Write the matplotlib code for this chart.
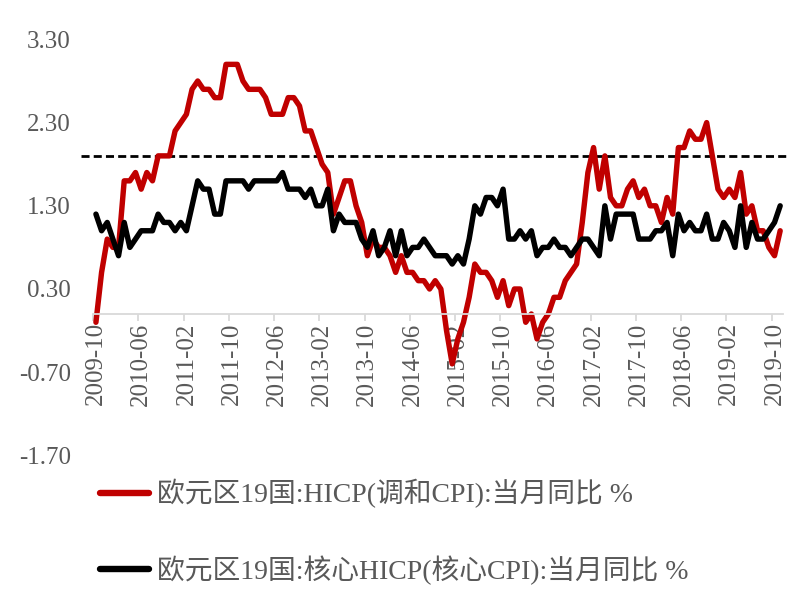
import matplotlib
matplotlib.use("Agg")
import matplotlib.pyplot as plt
import numpy as np
import pandas as pd
from matplotlib.lines import Line2D
from matplotlib.font_manager import FontProperties

plt.rcParams['lines.scale_dashes'] = False

# ---------------- data ----------------
months = list(pd.period_range('2009-10', '2019-11', freq='M').strftime('%Y-%m'))

hicp = [-0.1, 0.5, 0.9, 0.8, 0.8, 1.6, 1.6, 1.7, 1.5, 1.7, 1.6, 1.9, 1.9, 1.9, 2.2, 2.3,
        2.4, 2.7, 2.8, 2.7, 2.7, 2.6, 2.6, 3.0, 3.0, 3.0, 2.8, 2.7, 2.7, 2.7, 2.6, 2.4,
        2.4, 2.4, 2.6, 2.6, 2.5, 2.2, 2.2, 2.0, 1.8, 1.7, 1.2, 1.4, 1.6, 1.6, 1.3, 1.1,
        0.7, 0.9, 0.8, 0.8, 0.7, 0.5, 0.7, 0.5, 0.5, 0.4, 0.4, 0.3, 0.4, 0.3, -0.2, -0.6,
        -0.3, -0.1, 0.2, 0.6, 0.5, 0.5, 0.4, 0.2, 0.4, 0.1, 0.3, 0.3, -0.1, 0.0, -0.3, -0.1,
        0.0, 0.2, 0.2, 0.4, 0.5, 0.6, 1.1, 1.7, 2.0, 1.5, 1.9, 1.4, 1.3, 1.3, 1.5, 1.6,
        1.4, 1.5, 1.3, 1.3, 1.1, 1.4, 1.2, 2.0, 2.0, 2.2, 2.1, 2.1, 2.3, 1.9, 1.5, 1.4,
        1.5, 1.4, 1.7, 1.2, 1.3, 1.0, 1.0, 0.8, 0.7, 1.0]

core = [1.2, 1.0, 1.1, 0.9, 0.7, 1.1, 0.8, 0.9, 1.0, 1.0, 1.0, 1.2, 1.1, 1.1, 1.0, 1.1,
        1.0, 1.3, 1.6, 1.5, 1.5, 1.2, 1.2, 1.6, 1.6, 1.6, 1.6, 1.5, 1.6, 1.6, 1.6, 1.6,
        1.6, 1.7, 1.5, 1.5, 1.5, 1.4, 1.5, 1.3, 1.3, 1.5, 1.0, 1.2, 1.1, 1.1, 1.1, 0.9,
        0.8, 1.0, 0.7, 0.8, 1.0, 0.7, 1.0, 0.7, 0.8, 0.8, 0.9, 0.8, 0.7, 0.7, 0.7, 0.6,
        0.7, 0.6, 0.9, 1.3, 1.2, 1.4, 1.4, 1.3, 1.5, 0.9, 0.9, 1.0, 0.9, 1.0, 0.7, 0.8,
        0.8, 0.9, 0.8, 0.8, 0.7, 0.8, 0.9, 0.9, 0.8, 0.7, 1.3, 0.9, 1.2, 1.2, 1.2, 1.2,
        0.9, 0.9, 0.9, 1.0, 1.0, 1.1, 0.7, 1.2, 1.0, 1.1, 1.0, 1.0, 1.2, 0.9, 0.9, 1.1,
        1.0, 0.8, 1.3, 0.8, 1.1, 0.9, 0.9, 1.0, 1.1, 1.3]

target = 1.9
y_ticks = [-1.70, -0.70, 0.30, 1.30, 2.30, 3.30]
series_names = ['欧元区19国:HICP(调和CPI):当月同比 %',
                '欧元区19国:核心HICP(核心CPI):当月同比 %']
label_step = 8

# ---------------- figure ----------------
GRAY = '#595959'
AXIS = '#D9D9D9'
fam = ['Liberation Serif', 'Noto Sans CJK SC']

fig = plt.figure(figsize=(8.1, 6.1), dpi=100)
ax = fig.add_axes([93.1 / 810, 1 - 455.4 / 610, (783 - 93.1) / 810, (455.4 - 39.4) / 610])

x = np.arange(len(months))
ax.plot([-2.6, len(months) + 0.4], [target, target], color='black', lw=2.0,
        dashes=(5.8, 3.0), clip_on=False, zorder=1)
ax.plot(x, hicp, color='#C00000', lw=3.9, solid_capstyle='round',
        solid_joinstyle='round', zorder=2, clip_on=False)
ax.plot(x, core, color='black', lw=3.9, solid_capstyle='round',
        solid_joinstyle='round', zorder=3, clip_on=False)

ax.set_xlim(-0.5, len(months) - 0.5)
ax.set_ylim(y_ticks[0], y_ticks[-1])

for s in ['left', 'right', 'top']:
    ax.spines[s].set_visible(False)
ax.spines['bottom'].set_position(('data', 0))
ax.spines['bottom'].set_color(AXIS)
ax.spines['bottom'].set_linewidth(1.3)

ax.set_xticks(x[::label_step])
ax.set_xticklabels([months[i] for i in x[::label_step]], rotation=90,
                   fontfamily='Liberation Serif', fontsize=18, color=GRAY)
ax.set_xticks(np.arange(-0.5, len(months) - 1, label_step), minor=True)
ax.tick_params(axis='x', which='major', length=0, pad=6)
ax.tick_params(axis='x', which='minor', length=5, width=1.3, color=AXIS, direction='out')

ax.set_yticks(y_ticks)
ax.set_yticklabels(['%.2f' % v for v in y_ticks], fontfamily='Liberation Serif',
                   fontsize=18, color=GRAY)
ax.tick_params(axis='y', length=0, pad=16)

h1 = Line2D([], [], color='#C00000', lw=4.6, solid_capstyle='round')
h2 = Line2D([], [], color='black', lw=4.6, solid_capstyle='round')
leg = fig.legend([h1, h2], series_names, loc='upper left',
                 bbox_to_anchor=(100 / 810, 1 - 479 / 610), frameon=False,
                 prop=FontProperties(family=fam, size=20), handlelength=1.75,
                 handletextpad=0.3, labelspacing=1.7, borderpad=0, borderaxespad=0)
for t in leg.get_texts():
    t.set_color(GRAY)

fig.savefig('out.png', dpi=100)
